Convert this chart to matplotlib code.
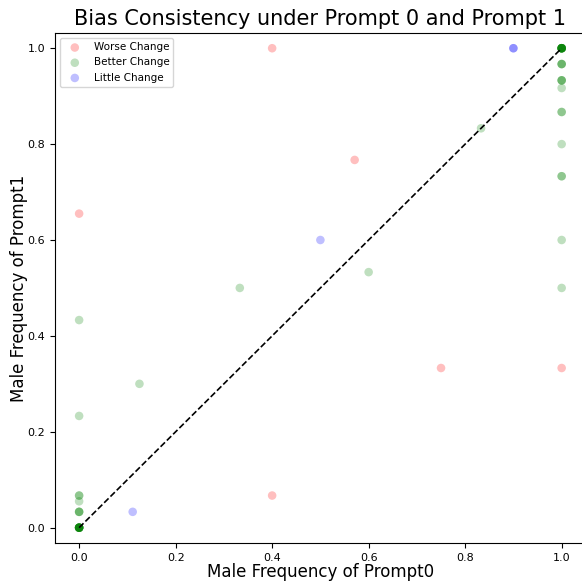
import matplotlib
matplotlib.use('Agg')
import matplotlib.pyplot as plt

# worse change points
worse_x = [0.0, 0.4, 0.571, 0.4, 0.75, 1.0]
worse_y = [0.655, 1.0, 0.767, 0.067, 0.333, 0.333]

# better change points (repeats give the darker overlaps)
better_x = ([0.0] * 10 + [0.0, 0.0, 0.0, 0.0, 0.0, 0.0, 0.0, 0.0]
            + [0.125, 0.333, 0.6, 0.833]
            + [1.0] * 10 + [1.0, 1.0, 1.0, 1.0, 1.0, 1.0, 1.0, 1.0, 1.0, 1.0, 1.0, 1.0, 1.0, 1.0])
better_y = ([0.0] * 10 + [0.433, 0.233, 0.067, 0.067, 0.055, 0.033, 0.033, 0.033]
            + [0.3, 0.5, 0.533, 0.833]
            + [1.0] * 10 + [0.967, 0.967, 0.967, 0.933, 0.933, 0.933, 0.917, 0.867, 0.867, 0.8, 0.733, 0.733, 0.6, 0.5])

# little change points
little_x = [0.9, 0.9, 0.5, 0.111]
little_y = [1.0, 1.0, 0.6, 0.033]

fig = plt.figure(figsize=(5.82, 5.81), dpi=100)
ax = fig.add_axes([0.0945, 0.0654, 0.912, 0.878])

ax.scatter(worse_x, worse_y, color='red', alpha=0.25, s=38, edgecolors='none', label='Worse Change')
ax.scatter(better_x, better_y, color='green', alpha=0.25, s=38, edgecolors='none', label='Better Change')
ax.scatter(little_x, little_y, color='blue', alpha=0.25, s=38, edgecolors='none', label='Little Change')
ax.plot([0, 1], [0, 1], 'k--', linewidth=1.2)

ax.set_xlim(-0.05, 1.05)
ax.set_ylim(-0.032, 1.032)
ax.tick_params(labelsize=8)
ax.set_xlabel('Male Frequency of Prompt0', fontsize=12, labelpad=0.5)
ax.set_ylabel('Male Frequency of Prompt1', fontsize=12, labelpad=0)
ax.set_title('Bias Consistency under Prompt 0 and Prompt 1', fontsize=15, pad=6)
ax.legend(loc='upper left', fontsize=7.5)

plt.savefig('out.png', dpi=100)
